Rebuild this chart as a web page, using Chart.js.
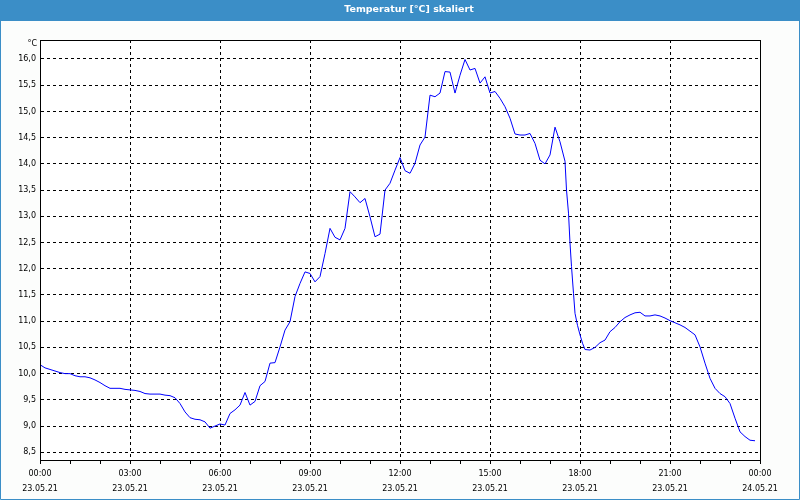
<!DOCTYPE html>
<html><head><meta charset="utf-8">
<script src="https://cdn.jsdelivr.net/npm/chart.js@4.4.1/dist/chart.umd.min.js"></script>
<style>html,body{margin:0;padding:0;background:#fff;}canvas{display:block;}</style>
</head><body>
<canvas id="c" width="800" height="500"></canvas>
<script>
const chartTitle = 'Temperatur [°C] skaliert';
const unitLabel = '°C';
const minutes = [0,10,20,30,40,50,60,70,80,90,100,110,120,130,140,150,160,170,180,190,200,210,220,230,240,250,260,270,280,290,300,310,320,330,340,350,360,370,380,390,400,410,420,430,440,450,460,470,480,490,500,510,520,530,540,550,560,570,580,590,600,610,620,630,640,650,660,670,680,690,700,710,720,730,740,750,760,770,780,790,800,810,820,830,840,850,860,870,880,890,900,910,920,930,940,950,960,970,980,990,1000,1010,1020,1030,1040,1050,1053,1057,1060,1063,1067,1070,1075,1080,1085,1090,1100,1110,1120,1130,1140,1150,1160,1170,1180,1190,1200,1210,1220,1230,1240,1250,1260,1270,1280,1290,1300,1310,1320,1330,1340,1350,1360,1370,1380,1390,1400,1410,1420,1430];
const temps = [10.17,10.11,10.08,10.05,10.02,10.00,10.00,9.96,9.94,9.94,9.92,9.88,9.83,9.77,9.72,9.72,9.72,9.70,9.69,9.68,9.66,9.62,9.61,9.61,9.61,9.59,9.58,9.54,9.43,9.27,9.16,9.13,9.12,9.08,8.96,9.00,9.04,9.02,9.24,9.31,9.40,9.64,9.40,9.47,9.77,9.85,10.20,10.21,10.51,10.83,10.99,11.47,11.72,11.94,11.91,11.75,11.85,12.29,12.77,12.60,12.55,12.77,13.47,13.37,13.26,13.34,12.99,12.61,12.66,13.50,13.63,13.88,14.12,13.87,13.82,14.01,14.36,14.51,15.31,15.28,15.35,15.76,15.75,15.35,15.69,15.99,15.79,15.82,15.54,15.66,15.35,15.38,15.25,15.09,14.87,14.57,14.55,14.55,14.58,14.39,14.07,14.00,14.17,14.70,14.42,14.05,13.50,13.06,12.49,12.04,11.53,11.15,10.92,10.74,10.58,10.46,10.45,10.50,10.59,10.64,10.80,10.88,10.99,11.07,11.12,11.16,11.17,11.10,11.10,11.12,11.10,11.06,11.01,10.97,10.93,10.88,10.81,10.74,10.51,10.20,9.91,9.72,9.62,9.56,9.43,9.15,8.89,8.80,8.73,8.72];
const yTicks = [8.5,9.0,9.5,10.0,10.5,11.0,11.5,12.0,12.5,13.0,13.5,14.0,14.5,15.0,15.5,16.0];
const xLabelHours = [0,3,6,9,12,15,18,21,24];
const xTimeLabels = ['00:00','03:00','06:00','09:00','12:00','15:00','18:00','21:00','00:00'];
const xDateLabels = ['23.05.21','23.05.21','23.05.21','23.05.21','23.05.21','23.05.21','23.05.21','23.05.21','24.05.21'];
const yMin = 8.353, yMax = 16.362;

const FONT = 'DejaVu Sans';
const BLUE = '#3b8ec7';

const deco = {
  id: 'deco',
  beforeDraw(chart) {
    const ctx = chart.ctx;
    ctx.save();
    ctx.fillStyle = '#fcfdfc';
    ctx.fillRect(0, 0, 800, 500);
    const a = chart.chartArea;
    ctx.fillStyle = '#ffffff';
    ctx.fillRect(a.left, a.top, a.right - a.left, a.bottom - a.top);
    ctx.fillStyle = BLUE;
    ctx.fillRect(0, 0, 800, 21);
    ctx.fillStyle = '#ffffff';
    ctx.font = 'bold 9.5px ' + FONT;
    ctx.textAlign = 'center';
    ctx.textBaseline = 'middle';
    ctx.fillText(chartTitle, 409, 9.5);
    ctx.restore();
  },
  afterDraw(chart) {
    const ctx = chart.ctx;
    const a = chart.chartArea;
    ctx.save();
    ctx.strokeStyle = '#000';
    ctx.lineWidth = 1;
    ctx.setLineDash([]);
    ctx.strokeRect(Math.round(a.left) + 0.5, Math.round(a.top) + 0.5, Math.round(a.right - a.left), Math.round(a.bottom - a.top));
    ctx.fillStyle = '#000';
    ctx.font = '8px ' + FONT;
    ctx.textAlign = 'right';
    ctx.textBaseline = 'middle';
    ctx.fillText(unitLabel, 37, 44);
    ctx.strokeStyle = BLUE;
    ctx.beginPath();
    ctx.moveTo(0.5, 0); ctx.lineTo(0.5, 499.5); ctx.lineTo(799.5, 499.5); ctx.lineTo(799.5, 0);
    ctx.stroke();
    ctx.restore();
  }
};

new Chart(document.getElementById('c'), {
  type: 'line',
  data: {
    datasets: [{
      data: minutes.map((m, i) => ({ x: m / 60, y: temps[i] })),
      borderColor: '#0000ff',
      borderWidth: 1,
      pointRadius: 0,
      tension: 0,
      fill: false
    }]
  },
  options: {
    responsive: false,
    animation: false,
    devicePixelRatio: 1,
    layout: { padding: { top: 40, right: 40, left: 0, bottom: 0 } },
    plugins: { legend: { display: false }, title: { display: false }, tooltip: { enabled: false } },
    scales: {
      x: {
        type: 'linear', min: 0, max: 24,
        afterFit(s) { s.height = 40; },
        afterBuildTicks(s) { const t = []; for (let h = 0; h <= 24; h++) t.push({ value: h }); s.ticks = t; },
        ticks: {
          autoSkip: false, maxRotation: 0, minRotation: 0, padding: 2, color: '#000',
          font: { family: FONT, size: 8, lineHeight: 1.9 },
          callback(v) { const i = xLabelHours.indexOf(v); return i >= 0 ? [xTimeLabels[i], xDateLabels[i]] : ''; }
        },
        grid: {
          color: c => (c.tick && c.tick.value % 3 === 0) ? '#000' : 'rgba(0,0,0,0)',
          tickColor: '#000', tickLength: 4, lineWidth: 1, tickBorderDash: []
        },
        border: { display: true, color: '#000', dash: [3, 3] }
      },
      y: {
        type: 'linear', min: yMin, max: yMax,
        afterFit(s) { s.width = 40; },
        afterBuildTicks(s) { s.ticks = yTicks.map(v => ({ value: v })); },
        ticks: {
          padding: 4, color: '#000', font: { family: FONT, size: 8 },
          callback(v) { return v.toFixed(1).replace('.', ','); }
        },
        grid: { color: '#000', drawTicks: false, lineWidth: 1 },
        border: { display: true, color: '#000', dash: [3, 3] }
      }
    }
  },
  plugins: [deco]
});
</script>
</body></html>
